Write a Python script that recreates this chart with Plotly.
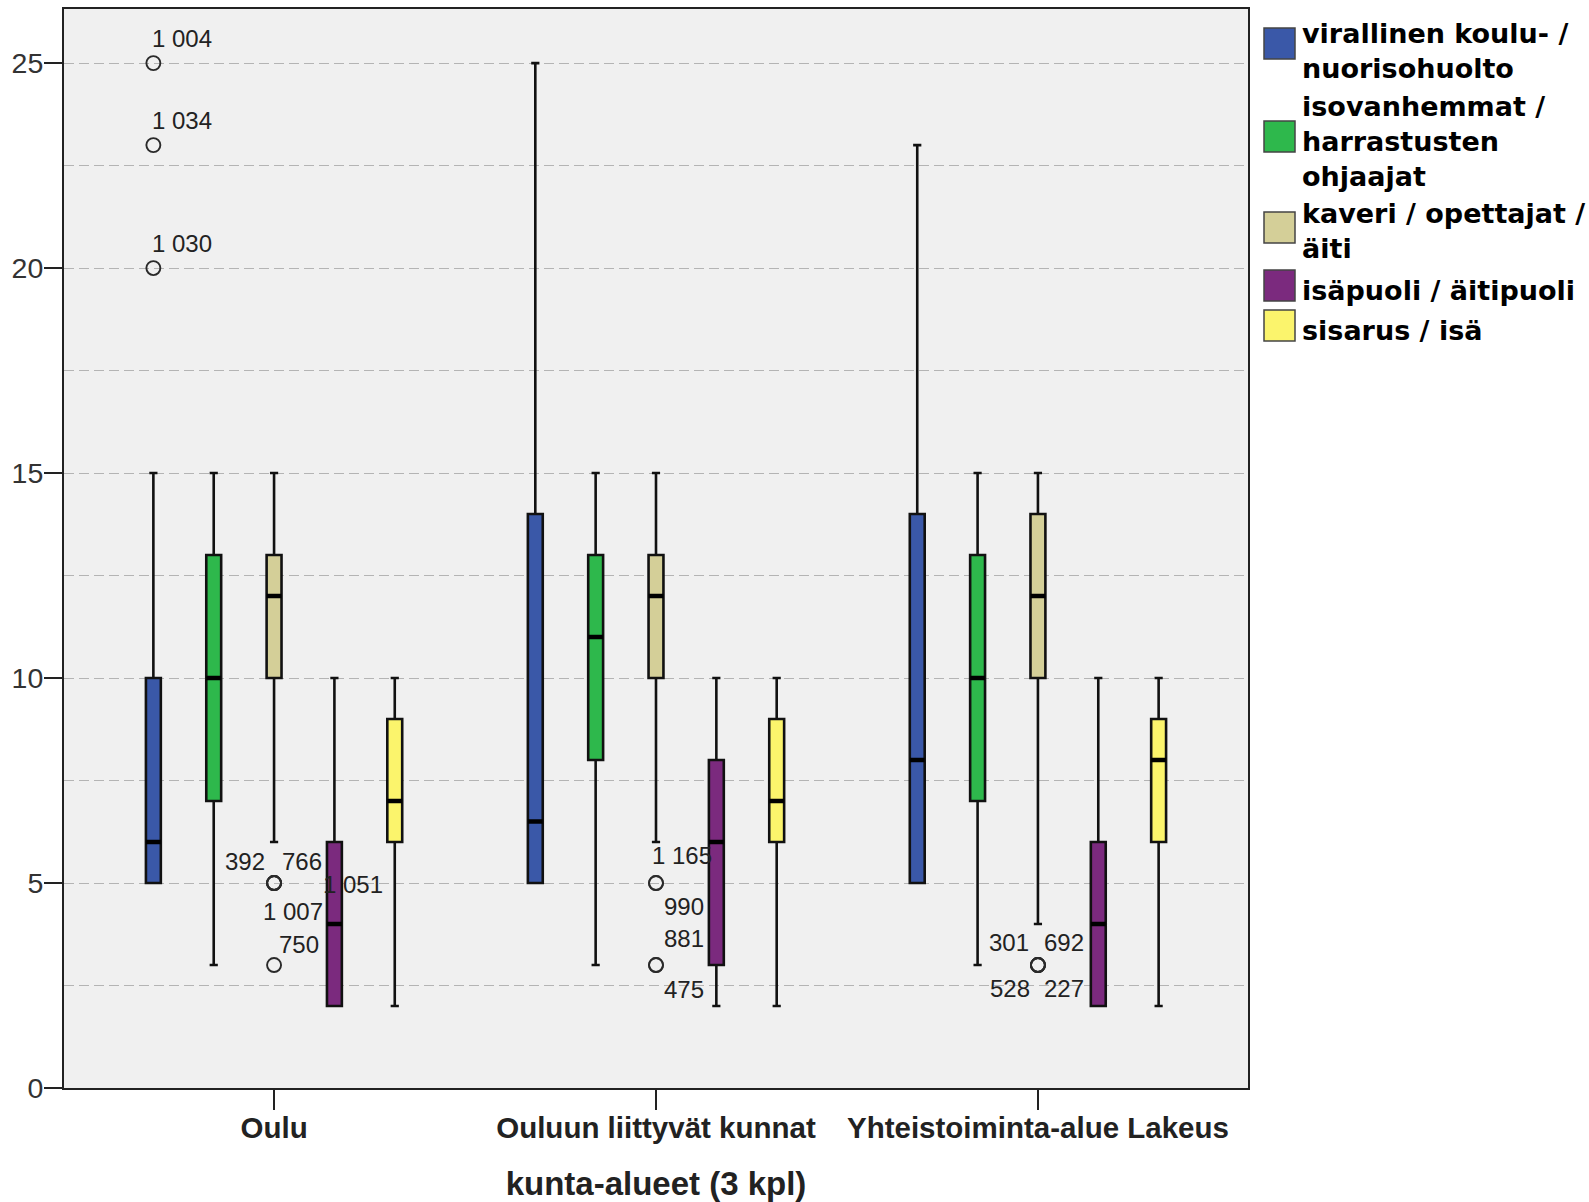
import plotly.graph_objects as go

# ---------------- data ----------------
categories = ["Oulu", "Ouluun liittyvät kunnat", "Yhteistoiminta-alue Lakeus"]
series_names = [
    "virallinen koulu- /<br>nuorisohuolto",
    "isovanhemmat /<br>harrastusten<br>ohjaajat",
    "kaveri / opettajat /<br>äiti",
    "isäpuoli / äitipuoli",
    "sisarus / isä",
]
lower_whisker = [[5, 5, 5], [3, 3, 3], [6, 6, 4], [2, 2, 2], [2, 2, 2]]
q1 = [[5, 5, 5], [7, 8, 7], [10, 10, 10], [2, 3, 2], [6, 6, 6]]
median = [[6, 6.5, 8], [10, 11, 10], [12, 12, 12], [4, 6, 4], [7, 7, 8]]
q3 = [[10, 14, 14], [13, 13, 13], [13, 13, 14], [6, 8, 6], [9, 9, 9]]
upper_whisker = [[15, 25, 23], [15, 15, 15], [15, 15, 15], [10, 10, 10], [10, 10, 10]]
outliers = [
    [[25, 23, 20], [], []],
    [[], [], []],
    [[5, 5, 5, 5, 3], [5, 5, 3, 3], [3, 3, 3, 3]],
    [[], [], []],
    [[], [], []],
]
outlier_ids = [
    [["1 004", "1 034", "1 030"], [], []],
    [[], [], []],
    [["392", "766", "1 007", "1 051", "750"], ["1 165", "990", "881", "475"], ["301", "692", "528", "227"]],
    [[], [], []],
    [[], [], []],
]

# ---------------- styles ----------------
colors = ["#3A58A8", "#2EB84C", "#D4CF98", "#7B2A7E", "#FBF46C"]
# label placement (xanchor, xshift px, yshift px) for each outlier label
label_place = [
    [[("left", -3, 25), ("left", -3, 25), ("left", -3, 25)], [], []],
    [[], [], []],
    [[("right", -7, 22), ("left", 6, 22), ("left", -13, -28), ("left", 47, -1), ("left", 3, 21)],
     [("left", -6, 28), ("left", 6, -23), ("left", 6, 27), ("left", 6, -24)],
     [("right", -7, 23), ("left", 4, 23), ("right", -6, -23), ("left", 4, -23)]],
    [[], [], []],
    [[], [], []],
]

W, H = 1589, 1202
ML, MR, MT, MB = 64, 341, 9, 114
BOXGAP = 0.21        # controls spacing between boxes of a group
BOXGROUPGAP = 0.753  # controls box width within its slot
TXT = "#222222"

fig = go.Figure()
n = len(series_names)
for k in range(n):
    has_out = any(len(o) for o in outliers[k])
    tr = dict(
        x=categories,
        q1=q1[k], median=median[k], q3=q3[k],
        lowerfence=lower_whisker[k], upperfence=upper_whisker[k],
        name=series_names[k].replace("<br>", " "),
        orientation="v",
        offsetgroup=f"g{k}",
        fillcolor=colors[k],
        line=dict(color="#111111", width=2.6),
        whiskerwidth=0.55,
        boxpoints="outliers" if has_out else False,
        jitter=0, pointpos=0,
        marker=dict(symbol="circle-open", size=14, color="#2a2a2a",
                    line=dict(width=1.9, color="#2a2a2a")),
        showlegend=False,
        hoverinfo="skip",
    )
    if has_out:
        tr["y"] = outliers[k]
    fig.add_trace(go.Box(**tr))

# thicker median bars (same slots as the boxes)
for k in range(n):
    fig.add_trace(go.Box(
        x=categories,
        q1=median[k], median=median[k], q3=median[k],
        lowerfence=median[k], upperfence=median[k],
        orientation="v", offsetgroup=f"g{k}",
        fillcolor="rgba(0,0,0,0)", line=dict(color="#000000", width=4.5),
        whiskerwidth=0, boxpoints=False, showlegend=False, hoverinfo="skip",
    ))

# outlier case labels
slot = (1 - BOXGAP) / n
annotations = []
for k in range(n):
    off = slot * (k + 0.5 - n / 2)
    for ci in range(len(categories)):
        for v, lab, (xa, xs, ys) in zip(outliers[k][ci], outlier_ids[k][ci], label_place[k][ci]):
            annotations.append(dict(
                x=ci + off, y=v, xref="x", yref="y", text=lab, showarrow=False,
                xanchor=xa, yanchor="middle", xshift=xs, yshift=ys,
                font=dict(family="Liberation Sans, Arial", size=24, color=TXT),
            ))

# custom legend (swatches + labels), placed in pixel terms outside the plot area
plot_w = W - ML - MR
plot_h = H - MT - MB
def px(xp):
    return (xp - ML) / plot_w
def py(yp):
    return 1 - (yp - MT) / plot_h

sw_top = [28, 121, 212, 270, 310]
sw_size = 32
block_center = [51, 141, 231, 290, 331]
shapes = []
for k in range(n):
    shapes.append(dict(
        type="rect", xref="paper", yref="paper",
        x0=px(1264), x1=px(1264 + sw_size - 1), y0=py(sw_top[k] + sw_size - 1), y1=py(sw_top[k]),
        fillcolor=colors[k], line=dict(color="#444444", width=1.5),
    ))
    annotations.append(dict(
        x=px(1300), y=py(block_center[k]), xref="paper", yref="paper",
        text=series_names[k], showarrow=False, xanchor="left", yanchor="middle", align="left",
        font=dict(family="DejaVu Sans", size=27, color="#000000", weight="bold"),
    ))

fig.update_layout(
    width=W, height=H,
    margin=dict(l=ML, r=MR, t=MT, b=MB, pad=0, autoexpand=False),
    paper_bgcolor="white",
    plot_bgcolor="#F0F0F0",
    boxmode="group",
    boxgroupgap=BOXGROUPGAP,
    boxgap=BOXGAP,
    showlegend=False,
    annotations=annotations,
    shapes=shapes,
    xaxis=dict(
        type="category",
        range=[-0.55, 2.55],
        showgrid=False, zeroline=False,
        showline=True, linecolor="#222222", linewidth=2, mirror=True,
        ticks="outside", ticklen=20, tickwidth=1.5, tickcolor="#222222",
        ticklabelstandoff=-7,
        tickfont=dict(family="Liberation Sans, Arial", size=29.5, color=TXT, weight="bold"),
        title=dict(text="kunta-alueet (3 kpl)", standoff=29,
                   font=dict(family="Liberation Sans, Arial", size=33, color=TXT, weight="bold")),
    ),
    yaxis=dict(
        range=[0, 26.32],
        tick0=0, dtick=5,
        showgrid=True, gridcolor="#B4B4B4", griddash="10px,5px", gridwidth=1,
        minor=dict(dtick=2.5, showgrid=True, gridcolor="#B4B4B4", griddash="10px,5px", gridwidth=1),
        zeroline=False,
        showline=True, linecolor="#222222", linewidth=2, mirror=True,
        ticks="outside", ticklen=18, tickwidth=2, tickcolor="#222222",
        ticklabelstandoff=-5,
        tickfont=dict(family="Liberation Sans, Arial", size=28.5, color="#333333"),
    ),
)

fig.write_html(
    "out.html",
    config={"displayModeBar": False},
    post_script="document.body.style.margin='0px';document.body.style.overflow='hidden';",
)
